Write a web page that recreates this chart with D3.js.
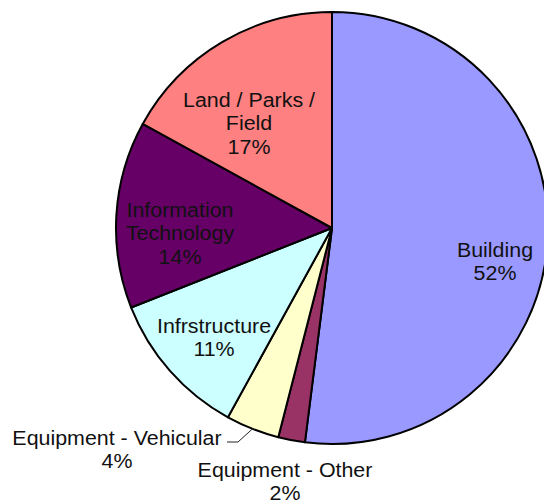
<!DOCTYPE html>
<html>
<head>
<meta charset="utf-8">
<script src="https://cdn.jsdelivr.net/npm/d3@7/dist/d3.min.js"></script>
<style>
  html, body { margin: 0; padding: 0; background: #fff; }
  svg { display: block; }
  text { font-family: "Liberation Sans", Arial, sans-serif; font-size: 20px; fill: #111; }
</style>
</head>
<body>
<svg id="chart" width="544" height="504"></svg>
<script>
// Capital spending by asset class (percent of total)
const categories = [
  "Building",
  "Equipment - Other",
  "Equipment - Vehicular",
  "Infrstructure",
  "Information Technology",
  "Land / Parks / Field"
];
const shares = [52, 2, 4, 11, 14, 17];
const sliceColors = ["#9999FF", "#993366", "#FFFFCC", "#CCFFFF", "#660066", "#FF8080"];

// Label text lines per slice (name split across lines, then the percentage)
const labelLines = [
  ["Building"],
  ["Equipment - Other"],
  ["Equipment - Vehicular"],
  ["Infrstructure"],
  ["Information", "Technology"],
  ["Land / Parks /", "Field"]
];

// Layout: label anchor (first baseline) relative to pie centre
const labelAnchors = [
  [163, 29],
  [-47, 249],
  [-215, 217],
  [-118, 105],
  [-152, -11],
  [-83, -121]
];

const width = 544, height = 504;
const cx = 332, cy = 228, radius = 216, lineGap = 23.5, textStretch = 1.07;

const svg = d3.select("#chart");
const g = svg.append("g").attr("transform", `translate(${cx},${cy})`);

const data = categories.map((c, i) => ({ name: c, value: shares[i], color: sliceColors[i], lines: labelLines[i], anchor: labelAnchors[i] }));

const pie = d3.pie().value(d => d.value).sort(null).startAngle(0).endAngle(2 * Math.PI);
const arcs = pie(data);
const arc = d3.arc().innerRadius(0).outerRadius(radius);

g.selectAll("path.slice")
  .data(arcs)
  .join("path")
  .attr("class", "slice")
  .attr("d", arc)
  .attr("fill", d => d.data.color)
  .attr("stroke", "#000")
  .attr("stroke-width", 2)
  .attr("stroke-linejoin", "round");

// Labels (slightly widened glyphs)
arcs.forEach(a => {
  const [ax, ay] = a.data.anchor;
  const t = g.append("text")
    .attr("text-anchor", "middle")
    .attr("transform", `translate(${ax},${ay}) scale(${textStretch},1)`);
  const lines = a.data.lines.concat([a.data.value + "%"]);
  lines.forEach((ln, i) => {
    t.append("tspan").attr("x", 0).attr("y", i * lineGap).text(ln);
  });
});

// Leader line for the vehicular slice
const veh = arcs[2];
const mid = (veh.startAngle + veh.endAngle) / 2;
const edge = [radius * Math.sin(mid), -radius * Math.cos(mid)];
const textEnd = [labelAnchors[2][0] + 110, labelAnchors[2][1] - 3];
g.append("polyline")
  .attr("points", [textEnd, [textEnd[0] + 11, textEnd[1]], edge].map(p => p.join(",")).join(" "))
  .attr("fill", "none")
  .attr("stroke", "#222")
  .attr("stroke-width", 1);
</script>
</body>
</html>
